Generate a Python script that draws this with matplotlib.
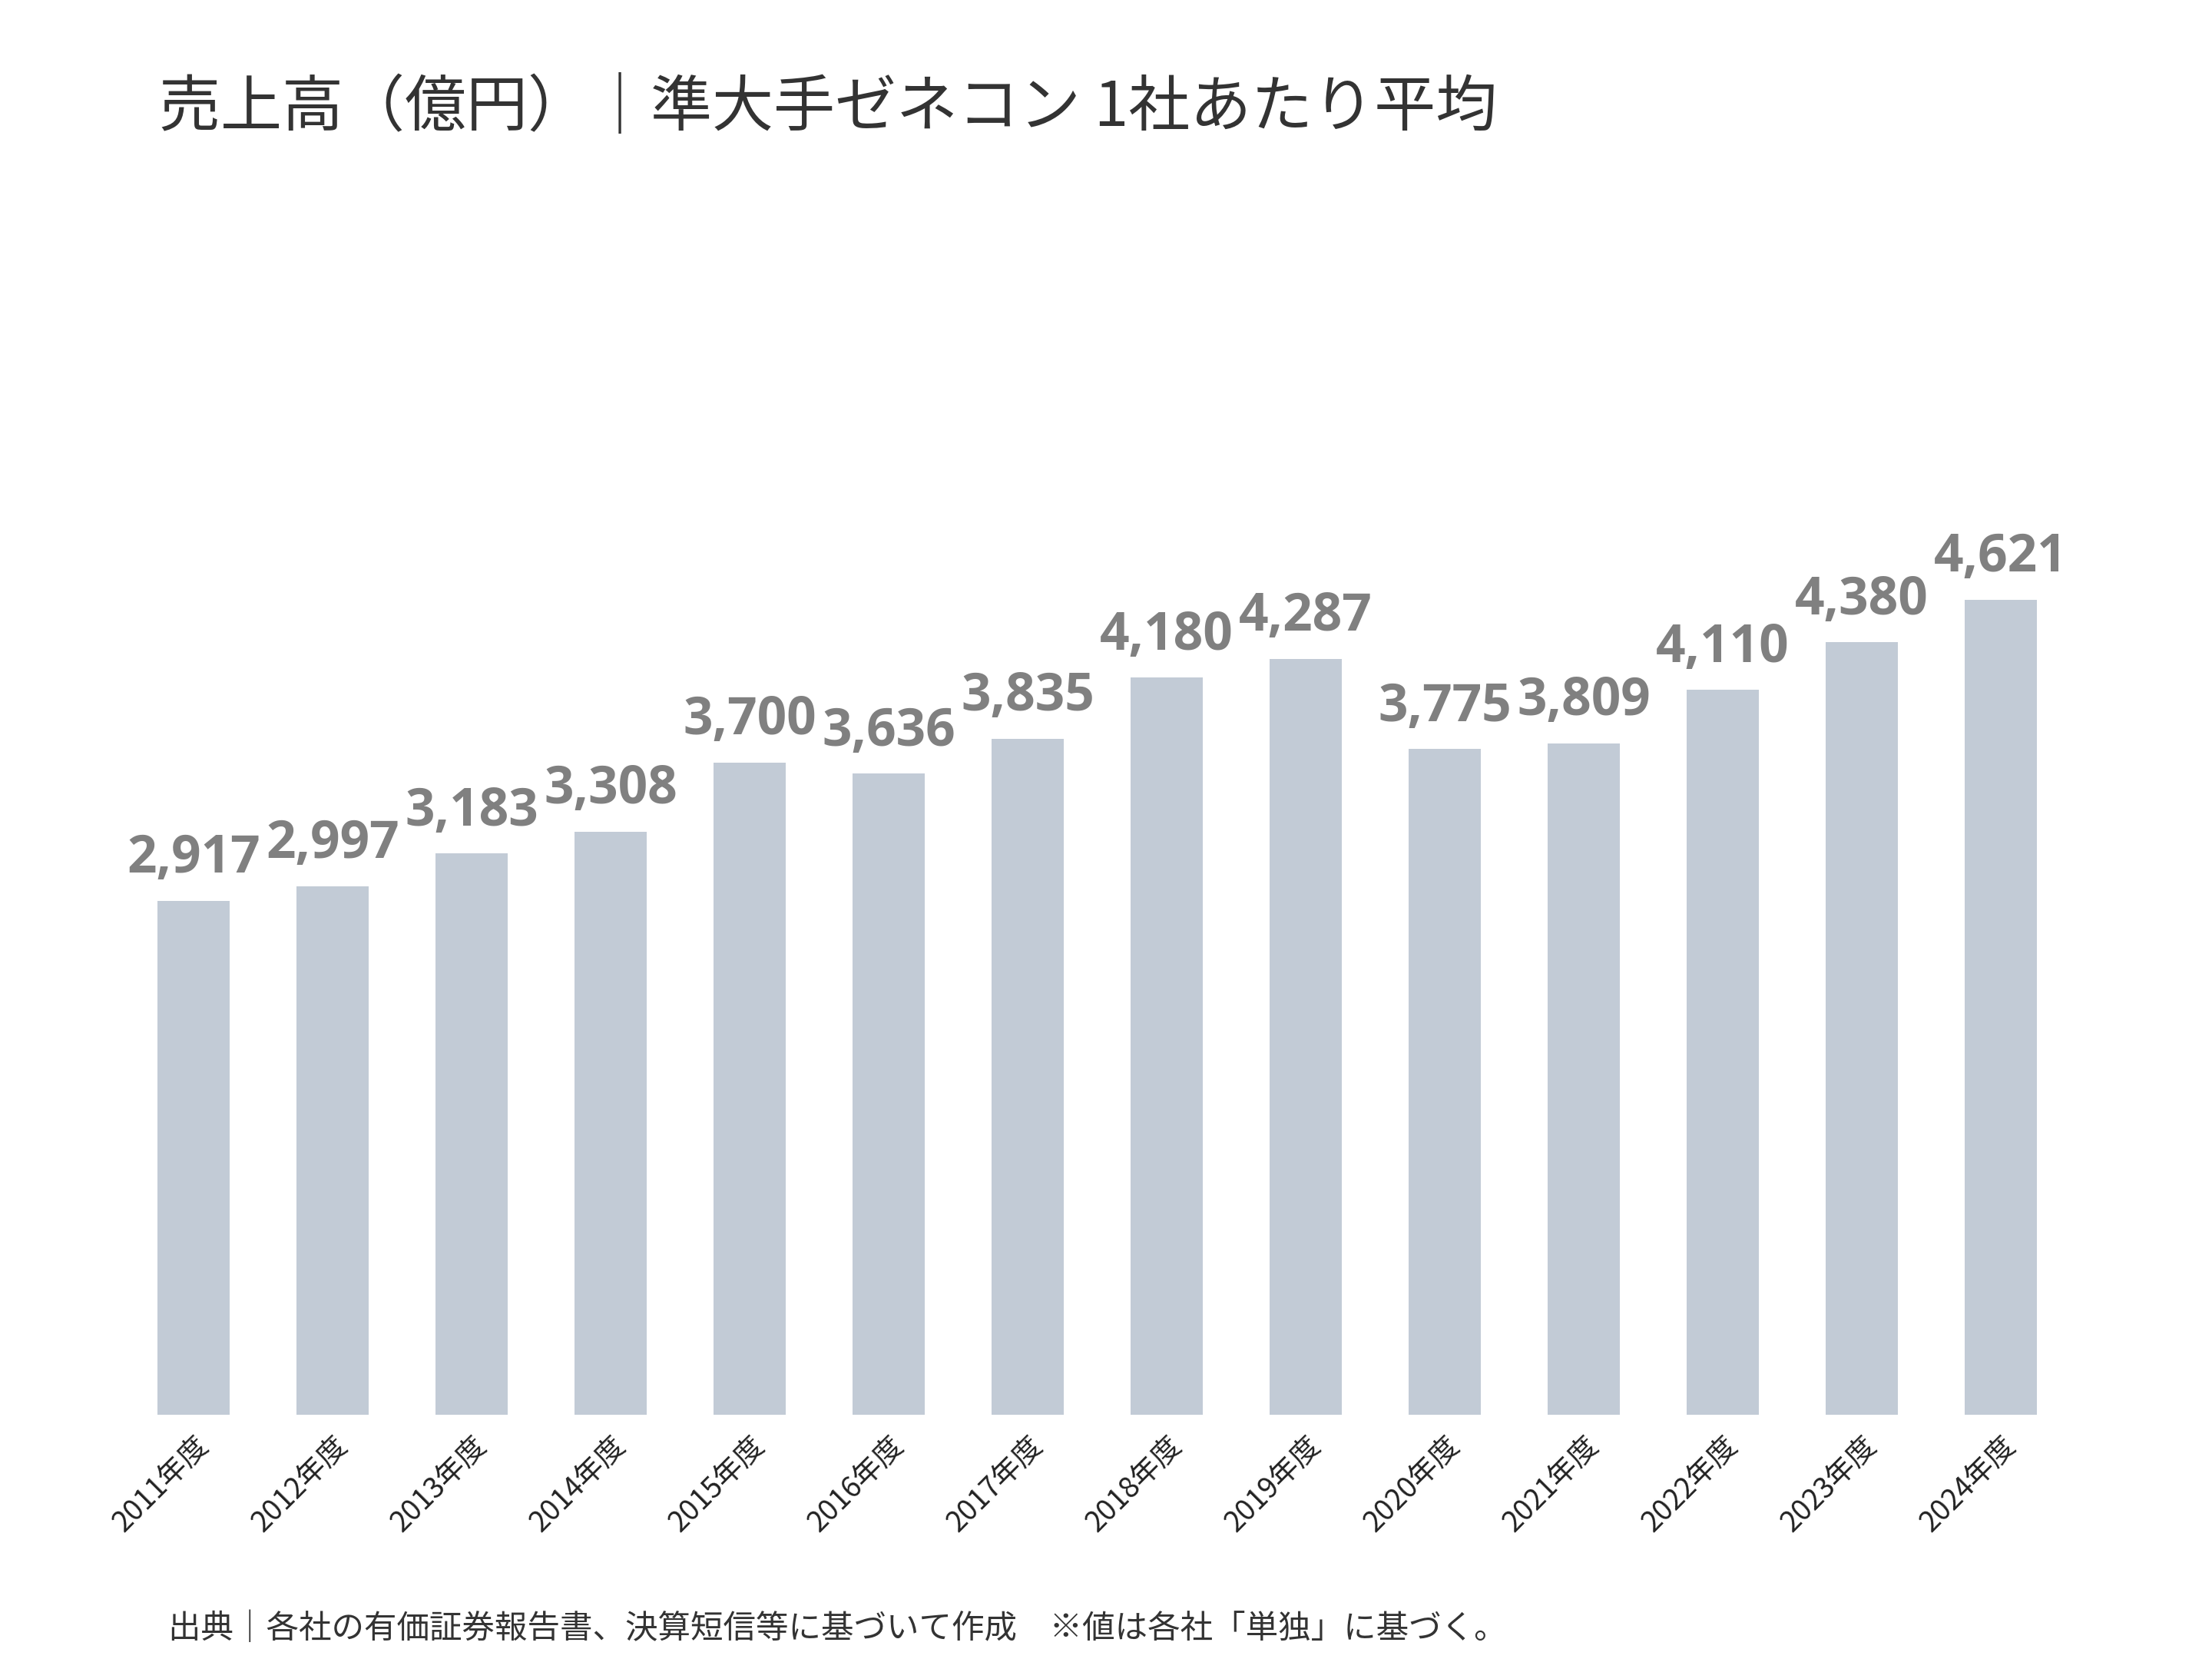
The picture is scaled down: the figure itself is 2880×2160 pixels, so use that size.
import matplotlib
matplotlib.use("Agg")
import matplotlib.pyplot as plt

years = ["2011年度","2012年度","2013年度","2014年度","2015年度","2016年度","2017年度",
         "2018年度","2019年度","2020年度","2021年度","2022年度","2023年度","2024年度"]
values = [2917, 2997, 3183, 3308, 3700, 3636, 3835, 4180, 4287, 3775, 3809, 4110, 4380, 4621]

plt.rcParams["font.family"] = ["Noto Sans CJK JP"]
fig = plt.figure(figsize=(16, 12), dpi=180)
ax = fig.add_axes([0.056, 0.147, 0.880, 0.638])
x = range(len(years))
ax.bar(x, values, width=0.52, color="#c2cbd6")
for i, v in zip(x, values):
    ax.text(i, v + 90, f"{v:,}", ha="center", va="bottom", fontsize=27,
            fontweight="bold", color="#808080", family="Open Sans")
ax.set_xlim(-0.5, len(years) - 0.5)
ax.set_ylim(0, 6000)
ax.set_yticks([])
ax.set_xticks(list(x))
ax.set_xticklabels(years, rotation=45, ha="right", rotation_mode="anchor", fontsize=15, color="#222222")
ax.tick_params(axis="x", length=0, pad=8)
for s in ax.spines.values():
    s.set_visible(False)
fig.text(0.072, 0.935, "売上高（億円）｜準大手ゼネコン 1社あたり平均", fontsize=32, color="#333333", va="center")
fig.text(0.076, 0.008, "出典｜各社の有価証券報告書、決算短信等に基づいて作成　※値は各社「単独」に基づく。",
         fontsize=17, color="#333333", va="bottom")
fig.savefig("out.png", dpi=180, facecolor="white")
